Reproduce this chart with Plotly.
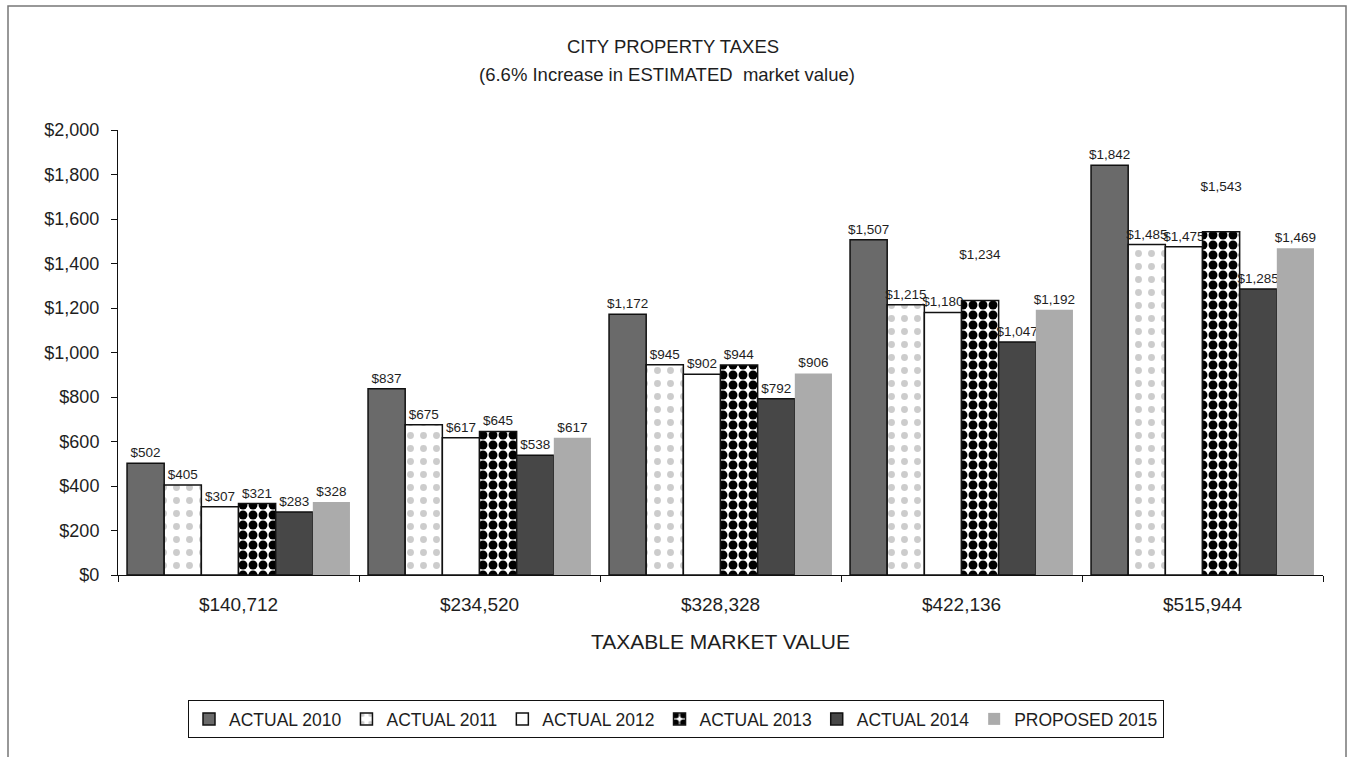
import plotly.graph_objects as go

# ---------------- data ----------------
categories = ["$140,712", "$234,520", "$328,328", "$422,136", "$515,944"]
series_names = ["ACTUAL 2010", "ACTUAL 2011", "ACTUAL 2012", "ACTUAL 2013", "ACTUAL 2014", "PROPOSED 2015"]
actual_2010 = [502, 837, 1172, 1507, 1842]
actual_2011 = [405, 675, 945, 1215, 1485]
actual_2012 = [307, 617, 902, 1180, 1475]
actual_2013 = [321, 645, 944, 1234, 1543]
actual_2014 = [283, 538, 792, 1047, 1285]
proposed_2015 = [328, 617, 906, 1192, 1469]
y_tick_values = [0, 200, 400, 600, 800, 1000, 1200, 1400, 1600, 1800, 2000]
y_tick_labels = ["$" + "{:,}".format(v) for v in y_tick_values]

series_values = [actual_2010, actual_2011, actual_2012, actual_2013, actual_2014, proposed_2015]

# ---------------- styles ----------------
FONT = "Liberation Sans, Arial, sans-serif"
TXT = "#1e1e1e"
styles = [
    dict(color="#6a6a6a", line=dict(color="#111", width=1.5)),
    dict(color="white", line=dict(color="#111", width=1.5),
         pattern=dict(shape=".", fgcolor="#999999", bgcolor="white", size=13, solidity=0.22, fillmode="overlay")),
    dict(color="white", line=dict(color="#111", width=1.5)),
    dict(color="white", line=dict(color="#111", width=1.5),
         pattern=dict(shape=".", fgcolor="#000000", bgcolor="white", size=10, solidity=0.62,
                      fgopacity=1, fillmode="overlay")),
    dict(color="#474747", line=dict(color="#111", width=1.5)),
    dict(color="#ababab", line=dict(color="#ababab", width=0)),
]
# labels raised above their bars in the original (series index, category index)
raised = {(3, 3), (3, 4)}
HIDDEN = "<br><span style='color:rgba(0,0,0,0)'>.</span>"

fig = go.Figure()
for si, (name, vals, st) in enumerate(zip(series_names, series_values, styles)):
    texts = []
    for ci, v in enumerate(vals):
        t = "${:,}".format(v)
        if (si, ci) in raised:
            t += HIDDEN * 2
        texts.append(t)
    fig.add_trace(go.Bar(
        name=name, x=categories, y=vals, marker=st,
        text=texts, textposition="outside", textangle=0,
        textfont=dict(size=13.5, color=TXT, family=FONT),
        constraintext="none", cliponaxis=False,
    ))

# plot area in pixels: x 118..1323, y 130..575
L, R, T, B = 118, 28, 130, 182
W, H = 1351, 757
pw, ph = W - L - R, H - T - B

def px(x):
    return (x - L) / pw

def py(y):
    return (H - B - y) / ph

fig.update_layout(
    width=W, height=H,
    margin=dict(l=L, r=R, t=T, b=B),
    paper_bgcolor="white", plot_bgcolor="white",
    font=dict(family=FONT, color=TXT),
    barmode="group", bargap=0.075, bargroupgap=0,
    showlegend=True,
    legend=dict(orientation="h", x=px(676), xanchor="center", y=py(700), yanchor="top",
                bordercolor="#111", borderwidth=1, bgcolor="white",
                font=dict(size=17.5, color=TXT, family=FONT),
                traceorder="normal"),
    xaxis=dict(type="category", showline=True, linecolor="#111", linewidth=1,
               ticks="outside", tickson="boundaries", ticklen=6, tickcolor="#111",
               tickfont=dict(size=19, color=TXT), ticklabelstandoff=12,
               showgrid=False,
               title=dict(text="TAXABLE MARKET VALUE", font=dict(size=21, color=TXT), standoff=20)),
    yaxis=dict(range=[0, 2000], tickvals=y_tick_values, ticktext=y_tick_labels,
               showline=True, linecolor="#111", linewidth=1, ticks="outside", ticklen=6,
               tickcolor="#111", tickfont=dict(size=18, color=TXT), ticklabelstandoff=8,
               showgrid=False, zeroline=False),
    annotations=[
        dict(text="CITY PROPERTY TAXES", xref="paper", yref="paper", x=px(673), y=py(47),
             xanchor="center", yanchor="middle", showarrow=False, font=dict(size=18.5, color=TXT)),
        dict(text="(6.6% Increase in ESTIMATED  market value)", xref="paper", yref="paper",
             x=px(667), y=py(75), xanchor="center", yanchor="middle", showarrow=False,
             font=dict(size=18.5, color=TXT)),
    ],
    shapes=[
        dict(type="rect", xref="paper", yref="paper", x0=px(8), x1=px(1346), y0=py(790), y1=py(6),
             line=dict(color="#777", width=1.5), fillcolor="rgba(0,0,0,0)", layer="below"),
    ],
)

fig.write_html("out.html")
